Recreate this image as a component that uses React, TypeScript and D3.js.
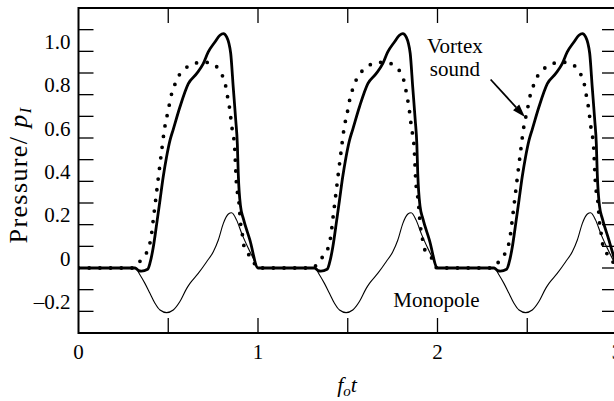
import React from "react";
import * as d3 from "d3";

const W = 614;
const H = 401;
const PLOT = { left: 78.5, top: 8, right: 617, bottom: 333 };

const X_DOMAIN: [number, number] = [0, 3];
const Y_DOMAIN: [number, number] = [-0.3, 1.2];
const X_LABEL_TICKS = [0, 1, 2, 3];
const X_MINOR_TICKS = [0.5, 1, 1.5, 2, 2.5];
const Y_LABEL_TICKS = [-0.2, 0, 0.2, 0.4, 0.6, 0.8, 1.0];
const Y_MINOR_TICKS = [-0.2, -0.1, 0, 0.1, 0.2, 0.3, 0.4, 0.5, 0.6, 0.7, 0.8, 0.9, 1.0, 1.1];

// cycle start times (f_o t)
const CYCLES = [0, 1, 2];

// vortex sound, computed (solid) – one cycle
const VORTEX_PHASE = [0, 0.315, 0.335, 0.35, 0.385, 0.398, 0.417, 0.436, 0.454, 0.472, 0.49, 0.51, 0.528, 0.565, 0.612, 0.658, 0.695, 0.723, 0.76, 0.788, 0.807, 0.826, 0.848, 0.862, 0.876, 0.885, 0.89, 0.903, 0.918, 0.955, 1.0];
const VORTEX_VALUE = [0, 0, -0.012, -0.014, -0.006, 0.022, 0.098, 0.206, 0.313, 0.421, 0.51, 0.59, 0.64, 0.743, 0.851, 0.897, 0.943, 0.997, 1.043, 1.074, 1.082, 1.066, 0.99, 0.835, 0.682, 0.57, 0.436, 0.283, 0.229, 0.129, 0];

// vortex sound, measured (dotted) – one cycle
const MEASURED_PHASE = [0, 0.3, 0.32, 0.357, 0.389, 0.404, 0.419, 0.433, 0.448, 0.463, 0.478, 0.502, 0.513, 0.53, 0.552, 0.59, 0.64, 0.7, 0.76, 0.798, 0.818, 0.829, 0.84, 0.855, 0.87, 0.879, 0.894, 0.904, 0.915, 0.922, 0.95, 0.974, 0.983, 1.0];
const MEASURED_VALUE = [0, 0, 0.009, 0.048, 0.089, 0.14, 0.24, 0.336, 0.439, 0.539, 0.636, 0.736, 0.785, 0.831, 0.877, 0.917, 0.943, 0.95, 0.935, 0.894, 0.848, 0.797, 0.747, 0.648, 0.556, 0.402, 0.301, 0.198, 0.144, 0.101, 0.06, 0.037, 0.014, 0];

// monopole contribution (thin) – one cycle
const MONOPOLE_PHASE = [0, 0.315, 0.343, 0.37, 0.398, 0.426, 0.454, 0.491, 0.528, 0.565, 0.603, 0.621, 0.667, 0.714, 0.751, 0.779, 0.807, 0.835, 0.853, 0.881, 0.909, 0.946, 0.983, 1.0];
const MONOPOLE_VALUE = [0, 0, -0.032, -0.071, -0.117, -0.163, -0.194, -0.206, -0.194, -0.155, -0.094, -0.071, -0.025, 0.029, 0.075, 0.129, 0.206, 0.249, 0.255, 0.221, 0.16, 0.091, 0.029, 0];

// annotations in data units
const VORTEX_LABEL = { t: 2.097, lines: ["Vortex", "sound"], v: [0.991, 0.885] };
const VORTEX_ARROW = { from: [2.296, 0.87], to: [2.487, 0.697] };
const MONOPOLE_LABEL = { t: 1.994, v: -0.18, text: "Monopole" };

type Pt = [number, number];

function tile(phase: number[], value: number[]): Pt[] {
  const out: Pt[] = [];
  CYCLES.forEach((c, ci) => {
    phase.forEach((p, i) => {
      if (ci > 0 && i === 0) return;
      out.push([c + p, value[i]]);
    });
  });
  return out;
}

const SERIF = '"Liberation Serif", "DejaVu Serif", serif';
const textStyle = { fontFamily: SERIF };

export default function App() {
  const x = d3.scaleLinear().domain(X_DOMAIN).range([PLOT.left, PLOT.right]);
  const y = d3.scaleLinear().domain(Y_DOMAIN).range([PLOT.bottom, PLOT.top]);

  const line = d3
    .line<Pt>()
    .x((d) => x(d[0]))
    .y((d) => y(d[1]))
    .curve(d3.curveMonotoneX);

  const vortex = tile(VORTEX_PHASE, VORTEX_VALUE);
  const measured = tile(MEASURED_PHASE, MEASURED_VALUE);
  const monopole = tile(MONOPOLE_PHASE, MONOPOLE_VALUE);

  const tickLen = 15;
  const fmt = (v: number) => (v < 0 ? "\u2013" + Math.abs(v).toFixed(1) : v === 0 ? "0" : v.toFixed(1));

  const [ax0, ay0] = [x(VORTEX_ARROW.from[0]), y(VORTEX_ARROW.from[1])];
  const [ax1, ay1] = [x(VORTEX_ARROW.to[0]), y(VORTEX_ARROW.to[1])];
  const ang = Math.atan2(ay1 - ay0, ax1 - ax0);
  const headL = 13;
  const headW = 4.2;
  const bx = ax1 - headL * Math.cos(ang);
  const by = ay1 - headL * Math.sin(ang);
  const head = [
    [ax1, ay1],
    [bx + headW * Math.sin(ang), by - headW * Math.cos(ang)],
    [bx - headW * Math.sin(ang), by + headW * Math.cos(ang)],
  ];

  return (
    <svg
      width={W}
      height={H}
      viewBox={`0 0 ${W} ${H}`}
      style={{ position: "absolute", left: 0, top: 0, background: "#fff", fontFamily: SERIF }}
    >
      <defs>
        <clipPath id="plot-area">
          <rect x={PLOT.left} y={PLOT.top} width={PLOT.right - PLOT.left} height={PLOT.bottom - PLOT.top} />
        </clipPath>
      </defs>

      {/* frame */}
      <rect
        x={PLOT.left}
        y={PLOT.top}
        width={PLOT.right - PLOT.left}
        height={PLOT.bottom - PLOT.top}
        fill="none"
        stroke="#000"
        strokeWidth={2}
      />

      {/* inward ticks on all four sides */}
      {Y_MINOR_TICKS.map((v) => (
        <g key={"y" + v}>
          <line x1={PLOT.left} x2={PLOT.left + tickLen} y1={y(v)} y2={y(v)} stroke="#000" strokeWidth={1.3} />
          <line x1={PLOT.right - tickLen} x2={PLOT.right} y1={y(v)} y2={y(v)} stroke="#000" strokeWidth={1.3} />
        </g>
      ))}
      {X_MINOR_TICKS.map((t) => (
        <g key={"x" + t}>
          <line x1={x(t)} x2={x(t)} y1={PLOT.bottom} y2={PLOT.bottom - tickLen} stroke="#000" strokeWidth={1.3} />
          <line x1={x(t)} x2={x(t)} y1={PLOT.top} y2={PLOT.top + tickLen} stroke="#000" strokeWidth={1.3} />
        </g>
      ))}

      {/* tick labels */}
      {Y_LABEL_TICKS.map((v) => (
        <text key={"yl" + v} x={70.5} y={y(v) - 2.5} textAnchor="end" fontSize={21} fill="#000" style={textStyle}>
          {fmt(v)}
        </text>
      ))}
      {X_LABEL_TICKS.map((t) => (
        <text key={"xl" + t} x={x(t)} y={359} textAnchor="middle" fontSize={21} fill="#000" style={textStyle}>
          {t}
        </text>
      ))}

      {/* axis titles */}
      <text
        transform="translate(27,175) rotate(-90)"
        textAnchor="middle"
        fontSize={26}
        letterSpacing={1.4}
        fill="#000"
        style={textStyle}
      >
        <tspan>Pressure/ </tspan>
        <tspan fontStyle="italic">p</tspan>
        <tspan fontStyle="italic" fontSize={16} dy={4}>I</tspan>
      </text>
      <text x={347} y={392} textAnchor="middle" fontSize={22} fill="#000" fontStyle="italic" style={textStyle}>
        <tspan>f</tspan>
        <tspan fontSize={15} dy={4}>o</tspan>
        <tspan dy={-4}>t</tspan>
      </text>

      {/* series */}
      <g clipPath="url(#plot-area)" fill="none" stroke="#000">
        <path d={line(monopole) ?? ""} strokeWidth={1.1} />
        <path d={line(vortex) ?? ""} strokeWidth={2.8} strokeLinejoin="round" />
        <path d={line(measured) ?? ""} strokeWidth={3.8} strokeLinecap="round" strokeDasharray="0 10.7" />
      </g>

      {/* annotations */}
      {VORTEX_LABEL.lines.map((s, i) => (
        <text key={s} x={x(VORTEX_LABEL.t)} y={y(VORTEX_LABEL.v[i])} textAnchor="middle" fontSize={21} fill="#000" style={textStyle}>
          {s}
        </text>
      ))}
      <line x1={ax0} y1={ay0} x2={bx} y2={by} stroke="#000" strokeWidth={1.8} />
      <polygon points={head.map((p) => p.join(",")).join(" ")} fill="#000" />
      <text x={x(MONOPOLE_LABEL.t)} y={y(MONOPOLE_LABEL.v)} textAnchor="middle" fontSize={21} fill="#000" style={textStyle}>
        {MONOPOLE_LABEL.text}
      </text>
    </svg>
  );
}
